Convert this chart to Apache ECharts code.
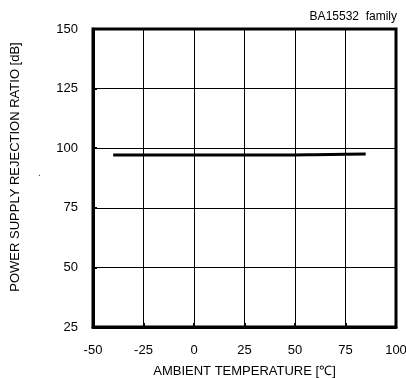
<!DOCTYPE html>
<html>
<head>
<meta charset="utf-8">
<script src="https://cdn.jsdelivr.net/npm/echarts@6/dist/echarts.min.js"></script>
<style>
  html, body { margin: 0; padding: 0; background: #fff; }
  #chart { width: 406px; height: 378px; }
</style>
</head>
<body>
<div id="chart"></div>
<script>
// ambient temperature [°C] vs PSRR [dB]
let temps = [-40, -25, 0, 25, 50, 60, 75, 85];
let psrr = [97.2, 97.2, 97.2, 97.2, 97.2, 97.3, 97.5, 97.6];
let xTicks = [-50, -25, 0, 25, 50, 75, 100];
let yTicks = [25, 50, 75, 100, 125, 150];

let chart = echarts.init(document.getElementById('chart'));
let font = 'Liberation Sans, Arial, sans-serif';

let option = {
  animation: false,
  title: {
    text: 'BA15532  family',
    right: 4,
    top: 6,
    textStyle: { fontFamily: font, fontSize: 12, fontWeight: 'normal', color: '#000' }
  },
  grid: {
    left: 93, right: 10, top: 29, bottom: 51,
    outerBoundsMode: 'none',
    containLabel: false,
    show: true,
    borderColor: '#000',
    borderWidth: 3
  },
  xAxis: {
    type: 'value',
    min: xTicks[0], max: xTicks[xTicks.length - 1], interval: 25,
    name: 'AMBIENT TEMPERATURE [\u2103]',
    nameLocation: 'middle',
    nameGap: 38,
    nameTextStyle: { fontFamily: font, fontSize: 13, color: '#000' },
    axisLine: { show: true, onZero: false, lineStyle: { color: '#000', width: 3 } },
    axisTick: { show: true, inside: true, length: 4, lineStyle: { color: '#000', width: 2 } },
    axisLabel: { fontFamily: font, fontSize: 13, color: '#000', margin: 17 },
    splitLine: { show: true, lineStyle: { color: '#000', width: 1 } }
  },
  yAxis: {
    type: 'value',
    min: yTicks[0], max: yTicks[yTicks.length - 1], interval: 25,
    name: 'POWER SUPPLY REJECTION RATIO [dB]',
    nameLocation: 'middle',
    nameGap: 71,
    nameTextStyle: { fontFamily: font, fontSize: 13, color: '#000', padding: [0, 0, 0, 22] },
    axisLine: { show: true, onZero: false, lineStyle: { color: '#000', width: 3 } },
    axisTick: { show: true, inside: true, length: 4, lineStyle: { color: '#000', width: 2 } },
    axisLabel: { fontFamily: font, fontSize: 13, color: '#000', margin: 15 },
    splitLine: { show: true, lineStyle: { color: '#000', width: 1 } }
  },
  graphic: [
    { type: 'text', left: 38, top: 168, style: { text: '.', font: '10px ' + font, fill: '#444' } }
  ],
  series: [
    {
      type: 'line',
      data: temps.map((t, i) => [t, psrr[i]]),
      showSymbol: false,
      smooth: true,
      lineStyle: { color: '#000', width: 3 }
    }
  ]
};
chart.setOption(option);
</script>
</body>
</html>
